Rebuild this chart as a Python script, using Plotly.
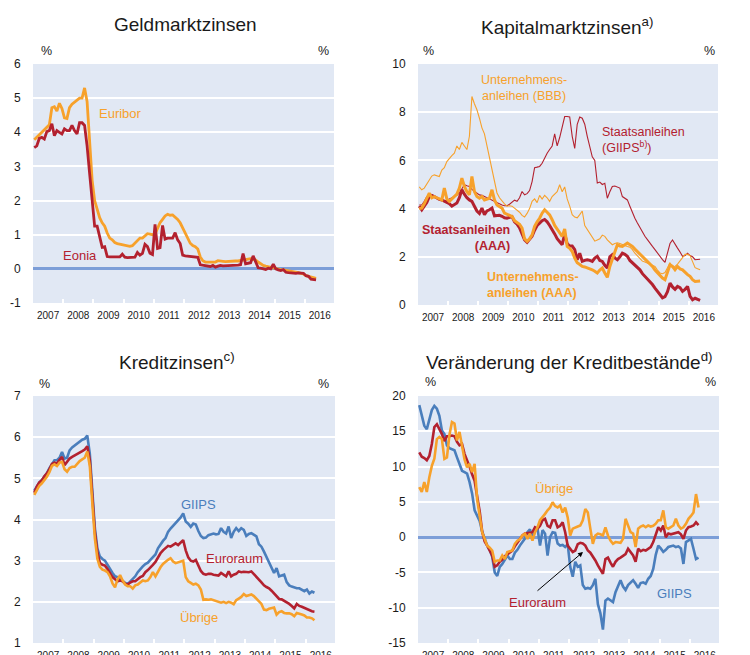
import plotly.graph_objects as go

# ---------------- data (monthly, Jan 2007 onwards) ----------------
YEARS = list(range(2007, 2017))

# Panel 1: Geldmarktzinsen
euribor = [
    3.78, 3.85, 3.92, 3.98, 4.07, 4.15, 4.22, 4.72, 4.75, 4.62, 4.85, 4.70,
    4.42, 4.40, 4.72, 4.82, 4.88, 4.95, 5.00, 5.00, 5.30, 4.90, 3.60, 2.60,
    2.00, 1.75, 1.50, 1.35, 1.25, 1.05, 0.90, 0.85, 0.77, 0.74, 0.72, 0.72,
    0.70, 0.67, 0.66, 0.68, 0.75, 0.85, 0.90, 0.90, 0.96, 1.03, 1.02, 1.00,
    1.02, 1.20, 1.35, 1.45, 1.55, 1.60, 1.57, 1.58, 1.52, 1.45, 1.35, 1.20,
    1.05, 0.90, 0.75, 0.68, 0.65, 0.58, 0.35, 0.24, 0.20, 0.20, 0.20, 0.19,
    0.20, 0.24, 0.22, 0.22, 0.21, 0.22, 0.22, 0.23, 0.23, 0.23, 0.24, 0.25,
    0.28, 0.29, 0.30, 0.28, 0.26, 0.20, 0.14, 0.10, 0.08, 0.06, 0.04, 0.02,
    0.00, -0.01, -0.02, -0.03, -0.04, -0.05, -0.06, -0.07, -0.09, -0.11, -0.13, -0.15,
    -0.20, -0.22, -0.25, -0.27, -0.28]
eonia = [
    3.55, 3.60, 3.82, 3.85, 3.80, 4.02, 4.05, 4.25, 3.90, 4.05, 4.00, 3.95,
    4.10, 4.05, 4.05, 4.20, 4.05, 3.95, 4.28, 4.28, 4.20, 3.60, 2.80, 2.00,
    1.25, 1.25, 0.90, 0.63, 0.65, 0.36, 0.35, 0.35, 0.35, 0.34, 0.35, 0.43,
    0.34, 0.33, 0.34, 0.35, 0.34, 0.48, 0.40, 0.45, 0.72, 0.65, 0.46, 0.42,
    1.30, 0.60, 0.62, 1.27, 0.87, 0.90, 0.90, 0.90, 1.06, 0.85, 0.74, 0.40,
    0.38, 0.37, 0.36, 0.35, 0.35, 0.34, 0.12, 0.11, 0.10, 0.09, 0.07, 0.10,
    0.05, 0.08, 0.10, 0.09, 0.09, 0.10, 0.10, 0.10, 0.10, 0.11, 0.12, 0.45,
    0.15, 0.16, 0.18, 0.38, 0.20, 0.03, 0.02, 0.00, -0.02, 0.02, 0.00, 0.14,
    0.00, -0.03, -0.05, -0.02, -0.10, -0.11, -0.12, -0.12, -0.13, -0.12, -0.13, -0.13,
    -0.20, -0.22, -0.30, -0.32, -0.32]

# Panel 2: Kapitalmarktzinsen
staat_giips = [
    4.15, 4.15, 4.30, 4.50, 4.55, 4.58, 4.50, 4.45, 4.40, 4.35, 4.30, 4.35,
    4.40, 4.42, 4.50, 4.55, 4.65, 4.80, 4.99, 4.95, 4.92, 4.80, 4.71, 4.65,
    4.57, 4.55, 4.50, 4.45, 4.38, 4.35, 4.30, 4.25, 4.18, 4.15, 4.12, 4.12,
    4.18, 4.25, 4.35, 4.30, 4.45, 4.71, 4.57, 4.62, 4.75, 5.12, 5.70, 5.72,
    5.75, 5.88, 6.10, 6.30, 6.45, 6.60, 7.10, 6.60, 6.95, 7.40, 7.82, 7.82,
    7.80, 7.00, 6.50, 7.50, 7.80, 7.75, 7.50, 7.00, 6.50, 6.15, 6.00, 5.06,
    5.10, 5.00, 5.05, 4.43, 4.70, 4.92, 4.94, 4.88, 4.85, 4.50, 4.42, 4.36,
    4.10, 3.81, 3.60, 3.40, 3.20, 3.05, 2.85, 2.71, 2.55, 2.43, 2.30, 2.15,
    2.00, 1.88, 1.77, 2.20, 2.55, 2.70, 2.50, 2.36, 2.20, 2.02, 2.05, 2.15,
    2.05, 2.00, 1.88, 1.90, 1.90]
unt_bbb = [
    4.90, 4.78, 4.85, 5.00, 5.20, 5.35, 5.40, 5.38, 5.33, 5.60, 5.70, 5.95,
    6.10, 6.20, 6.30, 6.60, 6.45, 6.75, 6.60, 6.45, 7.00, 8.65, 8.35, 8.10,
    7.75, 7.35, 7.10, 6.60, 6.10, 5.50, 5.00, 4.65, 4.45, 4.30, 4.20, 4.10,
    4.12, 4.10, 4.02, 3.95, 3.85, 3.72, 3.65, 3.80, 4.00, 4.30, 4.40, 4.25,
    4.55, 4.40, 4.55, 4.45, 4.30, 4.50, 4.60, 4.70, 4.99, 4.70, 4.90, 4.40,
    4.10, 3.75, 3.65, 3.62, 3.75, 3.90, 3.30, 3.15, 3.00, 2.85, 2.65, 2.70,
    2.75, 2.90, 2.85, 2.70, 2.60, 2.50, 2.55, 2.58, 2.55, 2.50, 2.48, 2.43,
    2.40, 2.30, 2.15, 2.05, 1.95, 1.82, 1.78, 1.74, 1.70, 1.65, 1.60, 1.45,
    1.33, 1.30, 1.35, 1.55, 1.75, 1.55, 1.60, 1.70, 1.85, 2.00, 2.10, 2.10,
    2.05, 1.80, 1.55, 1.50, 1.46]
staat_aaa = [
    4.10, 3.95, 4.10, 4.25, 4.50, 4.55, 4.50, 4.43, 4.38, 4.36, 4.30, 4.23,
    4.20, 4.10, 4.15, 4.23, 4.45, 4.78, 4.60, 4.45, 4.36, 4.30, 4.10, 3.90,
    3.80, 4.02, 3.75, 3.90, 3.95, 4.02, 3.70, 3.72, 3.72, 3.68, 3.62, 3.60,
    3.65, 3.67, 3.45, 3.35, 3.20, 2.98, 2.70, 2.60, 2.75, 2.85, 3.10, 3.30,
    3.40, 3.50, 3.55, 3.45, 3.30, 3.15, 2.95, 2.75, 2.60, 2.50, 2.95, 2.55,
    2.45, 2.45, 2.30, 1.88, 2.15, 1.81, 1.85, 1.88, 1.85, 1.81, 1.95, 2.02,
    1.85, 1.81, 1.65, 1.53, 2.00, 2.09, 1.95, 1.88, 2.00, 2.15, 2.10, 2.02,
    1.85, 1.75, 1.67, 1.55, 1.46, 1.30, 1.19, 1.08, 0.98, 0.85, 0.70, 0.55,
    0.43, 0.30, 0.35, 0.55, 0.91, 0.75, 0.65, 0.77, 0.72, 0.57, 0.65, 0.77,
    0.36, 0.22, 0.28, 0.25, 0.19]
unt_aaa = [
    4.00, 4.02, 4.20, 4.43, 4.64, 4.45, 4.50, 4.45, 4.40, 4.36, 4.85, 4.40,
    4.30, 4.40, 4.50, 4.60, 4.85, 5.26, 4.92, 4.70, 4.57, 5.33, 4.71, 4.50,
    4.43, 4.50, 4.36, 4.40, 4.43, 4.78, 4.36, 4.15, 4.09, 4.02, 3.81, 3.76,
    3.72, 3.67, 3.50, 3.42, 3.35, 3.19, 2.75, 2.64, 2.75, 2.91, 3.26, 3.45,
    3.60, 3.81, 3.95, 3.85, 3.74, 3.54, 3.30, 3.15, 3.00, 2.85, 3.15, 2.43,
    2.35, 2.22, 1.95, 1.75, 1.68, 1.60, 1.58, 1.55, 1.50, 1.46, 1.40, 1.33,
    1.45, 1.53, 1.33, 1.15, 1.60, 1.90, 2.29, 2.50, 2.45, 2.43, 2.50, 2.57,
    2.50, 2.43, 2.32, 2.22, 2.10, 2.02, 1.90, 1.81, 1.70, 1.60, 1.45, 1.33,
    1.20, 1.12, 1.05, 1.40, 1.67, 1.60, 1.46, 1.60, 1.50, 1.46, 1.35, 1.26,
    1.19, 1.05, 0.98, 1.00, 1.00]

# Panel 3: Kreditzinsen
kz_giips = [
    4.70, 4.82, 4.90, 4.96, 5.05, 5.12, 5.25, 5.35, 5.44, 5.44, 5.50, 5.64,
    5.48, 5.50, 5.68, 5.75, 5.80, 5.84, 5.90, 5.94, 5.96, 6.04, 5.60, 4.60,
    3.80, 3.30, 3.10, 3.04, 3.00, 2.90, 2.78, 2.70, 2.62, 2.60, 2.56, 2.50,
    2.46, 2.43, 2.50, 2.55, 2.62, 2.72, 2.80, 2.86, 2.92, 2.95, 3.02, 3.08,
    3.15, 3.30, 3.40, 3.48, 3.55, 3.70, 3.78, 3.85, 3.93, 3.99, 4.05, 4.15,
    3.95, 3.90, 3.82, 3.90, 3.88, 3.72, 3.60, 3.55, 3.56, 3.62, 3.65, 3.66,
    3.64, 3.65, 3.79, 3.70, 3.66, 3.83, 3.55, 3.70, 3.79, 3.72, 3.79, 3.75,
    3.60, 3.65, 3.67, 3.62, 3.59, 3.40, 3.34, 3.22, 3.10, 2.98, 2.85, 2.70,
    2.82, 2.62, 2.64, 2.66, 2.48, 2.40, 2.37, 2.34, 2.33, 2.33, 2.30, 2.26,
    2.30, 2.20, 2.25, 2.22]
kz_euro = [
    4.65, 4.80, 4.90, 4.95, 5.05, 5.12, 5.22, 5.35, 5.38, 5.36, 5.45, 5.52,
    5.32, 5.40, 5.48, 5.52, 5.55, 5.60, 5.62, 5.66, 5.70, 5.78, 5.45, 4.50,
    3.70, 3.20, 2.95, 2.90, 2.88, 2.80, 2.70, 2.60, 2.55, 2.50, 2.52, 2.50,
    2.44, 2.42, 2.47, 2.50, 2.50, 2.56, 2.60, 2.63, 2.72, 2.77, 2.85, 2.90,
    2.97, 3.08, 3.18, 3.25, 3.30, 3.36, 3.34, 3.38, 3.42, 3.38, 3.45, 3.50,
    3.25, 3.08, 3.00, 2.98, 3.02, 2.90, 2.75, 2.68, 2.66, 2.68, 2.68, 2.66,
    2.65, 2.64, 2.70, 2.65, 2.62, 2.74, 2.62, 2.66, 2.68, 2.74, 2.72, 2.73,
    2.72, 2.72, 2.74, 2.68, 2.62, 2.54, 2.47, 2.40, 2.36, 2.33, 2.27, 2.20,
    2.15, 2.07, 2.06, 2.03, 2.00, 1.95, 1.90, 1.84, 1.95, 1.90, 1.88, 1.85,
    1.82, 1.78, 1.77, 1.76]
kz_uebrige = [
    4.60, 4.72, 4.82, 4.88, 4.95, 5.04, 5.15, 5.30, 5.34, 5.30, 5.38, 5.40,
    5.22, 5.16, 5.25, 5.28, 5.28, 5.36, 5.42, 5.46, 5.50, 5.65, 5.30, 4.40,
    3.55, 3.05, 2.85, 2.78, 2.76, 2.72, 2.62, 2.45, 2.35, 2.55, 2.65, 2.52,
    2.42, 2.38, 2.38, 2.32, 2.40, 2.42, 2.47, 2.52, 2.50, 2.52, 2.60, 2.72,
    2.62, 2.75, 2.84, 2.92, 2.98, 3.02, 3.06, 2.98, 2.94, 2.96, 2.98, 3.00,
    2.60, 2.50, 2.46, 2.42, 2.44, 2.40, 2.30, 2.05, 2.06, 2.05, 2.06, 2.04,
    2.02, 2.00, 1.98, 2.00, 1.97, 2.00, 1.98, 1.94, 2.04, 2.08, 2.12, 2.19,
    2.14, 2.16, 2.18, 2.14, 2.08, 2.00, 1.95, 1.81, 1.80, 1.83, 1.84, 1.86,
    1.69, 1.75, 1.77, 1.73, 1.72, 1.72, 1.70, 1.65, 1.73, 1.70, 1.69, 1.67,
    1.62, 1.62, 1.60, 1.55]

# Panel 4: Veraenderung der Kreditbestaende
kb_giips = [
    18.7, 17.2, 15.8, 15.3, 16.5, 18.0, 18.6, 18.2, 17.2, 15.1, 14.6, 13.0,
    12.6, 12.5, 12.3, 11.3, 10.2, 9.4, 9.2, 9.0, 7.8, 6.2, 3.8, 3.1,
    2.3, 0.8, -0.3, -1.2, -1.8, -2.8, -5.0, -5.5, -4.2, -3.8, -3.2, -2.6,
    -3.1, -3.1, -2.2, -1.8, -1.2, -0.6, -0.2, 0.7, 1.1, -0.2, 0.9, 1.2,
    -1.2, 1.0, 0.5, -2.6, 0.0, 0.7, 0.6, -0.9, -1.2, -1.1, -1.4, -1.0,
    -4.2, -5.6, -3.5, -4.2, -4.0, -6.8, -7.3, -7.2, -7.3, -6.8, -5.9, -9.5,
    -10.8, -13.1, -9.0, -8.7, -8.9, -9.2, -7.8, -7.0, -6.1, -7.0, -7.5, -6.8,
    -6.5, -6.1, -6.6, -7.2, -6.5, -6.4, -6.6, -5.9, -5.5, -4.5, -2.5, -1.2,
    -1.6, -2.1, -1.8, -1.4, -1.3, -1.2, -1.4, -1.3, -1.6, -3.8, -0.7, -0.5,
    -0.24, -1.65, -3.1, -2.9]
kb_euro = [
    12.0, 11.4, 11.2, 10.9, 11.5, 13.2, 15.6, 16.0, 15.3, 14.6, 13.6, 14.3,
    14.3, 14.4, 14.3, 13.5, 13.0, 13.2, 11.8, 11.0, 10.0, 8.9, 8.0, 5.8,
    3.7, 0.8, -0.6, -1.2, -1.9, -2.6, -4.2, -4.0, -3.5, -3.2, -2.7, -2.4,
    -2.1, -1.9, -1.3, -0.8, -0.3, 0.24, 0.5, 0.5, 0.6, 0.7, 1.4, 1.2,
    1.6, 2.4, 2.6, 1.6, 1.4, 2.4, 2.4, 1.4, 1.6, 2.1, 0.7, -1.2,
    -1.65, -2.1, -1.9, -1.0, -0.8, -0.9, -1.2, -1.9, -2.2, -2.7, -3.3, -4.0,
    -4.6, -5.2, -3.1, -2.9, -3.6, -4.2, -3.5, -3.1, -2.9, -2.6, -2.4, -1.65,
    -2.1, -2.6, -3.5, -1.65, -2.0, -1.8, -1.9, -1.6, -1.4, -0.7, 0.5, 1.4,
    0.94, 1.65, 0.0, 0.5, 0.4, 0.5, 0.7, 0.7, 0.4, -0.24, 0.94, 1.4,
    1.5, 1.65, 2.1, 1.7]
kb_uebrige = [
    7.1, 6.4, 7.8, 6.4, 8.5, 10.1, 11.1, 13.9, 14.2, 13.9, 11.1, 11.3,
    14.5, 16.3, 16.1, 13.7, 14.9, 12.8, 11.0, 9.9, 10.4, 9.2, 10.4, 5.4,
    2.8, 0.7, -0.24, -1.2, -1.5, -1.9, -3.5, -3.3, -3.3, -2.6, -3.1, -2.1,
    -2.0, -1.9, -0.94, -0.5, -0.3, 0.24, 0.5, -0.24, 0.5, -0.5, 0.7, 1.4,
    2.4, 2.8, 3.3, 3.8, 4.2, 4.95, 4.4, 4.2, 4.5, 3.5, 4.2, 2.8,
    0.24, 1.2, 1.4, 1.5, 1.65, 2.4, 4.0, 3.5, 1.2, -0.94, 0.24, 0.5,
    0.4, 0.24, 1.4, 0.24, -0.5, -0.94, -0.7, -0.8, -0.8, -0.24, 2.6, 1.65,
    0.7, 0.5, -1.4, 1.2, 1.5, 1.65, 1.4, 1.65, 1.5, 1.6, 1.9, 2.4,
    2.4, 3.8, 1.4, 1.2, 1.4, 1.65, 2.6, 1.65, 1.2, 1.4, 1.9, 2.6,
    3.0, 3.5, 6.1, 4.2]

# ticks
ticks_p1 = [-1, 0, 1, 2, 3, 4, 5, 6]
ticks_p2 = [0, 2, 4, 6, 8, 10]
ticks_p3 = [1, 2, 3, 4, 5, 6, 7]
ticks_p4 = [-15, -10, -5, 0, 5, 10, 15, 20]

# ---------------- style ----------------
ORANGE = '#F7A12B'
RED = '#B3212F'
BLUE = '#4A7EBC'
BG = '#E1E8F4'
ZERO = '#7C9ED8'
FONT = 'Liberation Sans, Arial, sans-serif'
NARROW = 'Liberation Sans Narrow, Arial Narrow, Liberation Sans, Arial, sans-serif'
W, H = 750, 655


def px(x):
    return x / W


def py(y):
    return 1 - y / H


def t_of(series):
    return [2007 + (i + 0.5) / 12 for i in range(len(series))]


PANELS = {
    1: dict(x=(33, 334), y=(64, 303), rng=[-1, 6], ticks=ticks_p1, zero=True),
    2: dict(x=(418, 718), y=(64, 305), rng=[0, 10], ticks=ticks_p2, zero=False),
    3: dict(x=(33, 335), y=(396, 643), rng=[1, 7], ticks=ticks_p3, zero=False),
    4: dict(x=(418, 719), y=(396, 643), rng=[-15, 20], ticks=ticks_p4, zero=True),
}

fig = go.Figure()

series = [
    (1, euribor, ORANGE, 2.8), (1, eonia, RED, 2.8),
    (2, staat_giips, RED, 1.1), (2, unt_bbb, ORANGE, 1.1),
    (2, staat_aaa, RED, 3.0), (2, unt_aaa, ORANGE, 3.0),
    (3, kz_giips, BLUE, 2.6), (3, kz_euro, RED, 2.6), (3, kz_uebrige, ORANGE, 2.6),
    (4, kb_giips, BLUE, 2.6), (4, kb_euro, RED, 2.6), (4, kb_uebrige, ORANGE, 2.6),
]
for n, vals, col, w in series:
    fig.add_trace(go.Scatter(
        x=t_of(vals), y=vals, mode='lines',
        line=dict(color=col, width=w),
        xaxis='x' if n == 1 else 'x%d' % n,
        yaxis='y' if n == 1 else 'y%d' % n,
        hoverinfo='skip', showlegend=False))

layout = dict(
    width=W, height=H, margin=dict(l=0, r=0, t=0, b=0, autoexpand=False),
    paper_bgcolor='white', plot_bgcolor=BG,
    font=dict(family=FONT, color='#1a1a1a'),
    showlegend=False,
)

for n, p in PANELS.items():
    xk = 'xaxis' if n == 1 else 'xaxis%d' % n
    yk = 'yaxis' if n == 1 else 'yaxis%d' % n
    yr = 'yaxis%d' % (n + 4)
    xid = 'x' if n == 1 else 'x%d' % n
    yid = 'y' if n == 1 else 'y%d' % n
    l, r = p['x']
    top, bot = p['y']
    layout[xk] = dict(
        domain=[px(l), px(r)], range=[2007, 2016.97], anchor=yid,
        tickmode='array', tickvals=[y + 0.5 for y in YEARS],
        ticktext=[str(y) for y in YEARS],
        ticks='outside', ticklen=3, tickcolor='rgba(0,0,0,0)',
        showgrid=False, zeroline=False, showline=False, automargin=False,
        tickfont=dict(family=NARROW, size=10, color='#1a1a1a'),
        minor=dict(tickmode='array', tickvals=YEARS[1:], ticks='inside',
                   ticklen=4, tickwidth=1.5, tickcolor='white', showgrid=False),
        fixedrange=True)
    common = dict(
        range=p['rng'], tickmode='array', tickvals=p['ticks'],
        ticktext=[str(v) for v in p['ticks']],
        tickfont=dict(family=FONT, size=12, color='#1a1a1a'),
        automargin=False, fixedrange=True)
    layout[yk] = dict(
        domain=[py(bot), py(top)], anchor=xid, side='left',
        ticks='outside', ticklen=9, tickcolor='rgba(0,0,0,0)',
        showgrid=True, gridcolor='white', gridwidth=2,
        zeroline=p['zero'], zerolinecolor=ZERO, zerolinewidth=3,
        showline=False, **common)
    layout[yr] = dict(
        domain=[py(bot), py(top)], anchor=xid, overlaying=yid, side='right',
        ticks='outside', ticklen=6, tickcolor='rgba(0,0,0,0)',
        showgrid=False, zeroline=False, showline=False, **common)

fig.update_layout(**layout)

ann = []


def text(x, y, s, size=13, color='#1a1a1a', xanchor='center', align='center', bold=False):
    if bold:
        s = '<b>' + s.replace('<br>', '</b><br><b>') + '</b>'
    ann.append(dict(x=px(x), y=py(y), xref='paper', yref='paper', text=s,
                    showarrow=False, xanchor=xanchor, yanchor='middle', align=align,
                    font=dict(family=FONT, size=size, color=color)))


# titles
text(185, 25, 'Geldmarktzinsen', size=19)
text(567, 26, 'Kapitalmarktzinsen<sup>a)</sup>', size=19)
text(177, 361, 'Kreditzinsen<sup>c)</sup>', size=19)
text(569, 361, 'Veränderung der Kreditbestände<sup>d)</sup>', size=19)

# % labels
for (x, y) in [(46, 51), (323, 51), (429, 51), (709, 51),
               (44, 384), (323, 384), (430, 382), (710, 382)]:
    text(x, y, '%', size=12.5)

# series labels
text(97, 113, 'Euribor', color=ORANGE, xanchor='left', align='left')
text(61, 255, 'Eonia', color=RED, xanchor='left', align='left')

text(524, 88, 'Unternehmens-<br>anleihen (BBB)', size=12.5, color=ORANGE)
text(600, 140, 'Staatsanleihen<br>(GIIPS<sup>b)</sup>)', size=12.5, color=RED,
     xanchor='left', align='left')
text(512, 238, 'Staatsanleihen<br>(AAA)', size=12.5, color=RED,
     xanchor='right', align='right', bold=True)
text(485, 285, 'Unternehmens-<br>anleihen (AAA)', size=12.5, color=ORANGE,
     xanchor='left', align='left', bold=True)

text(199, 505, 'GIIPS', color=BLUE)
text(204, 558, 'Euroraum', color=RED, xanchor='left', align='left')
text(178, 617, 'Übrige', color=ORANGE, xanchor='left', align='left')

text(533, 488, 'Übrige', color=ORANGE, xanchor='left', align='left')
text(507, 602, 'Euroraum', color=RED, xanchor='left', align='left')
text(655, 593, 'GIIPS', color=BLUE, xanchor='left', align='left')

# arrow
ann.append(dict(x=px(583), y=py(552), xref='paper', yref='paper', text='',
                showarrow=True, ax=536 - 583, ay=592 - 552, axref='pixel', ayref='pixel',
                arrowhead=2, arrowsize=1, arrowwidth=1, arrowcolor='black', standoff=0))

fig.update_layout(annotations=ann)
fig.write_html('out.html', config={'displayModeBar': False},
               post_script="document.body.style.margin='0';document.body.style.overflow='hidden';")
